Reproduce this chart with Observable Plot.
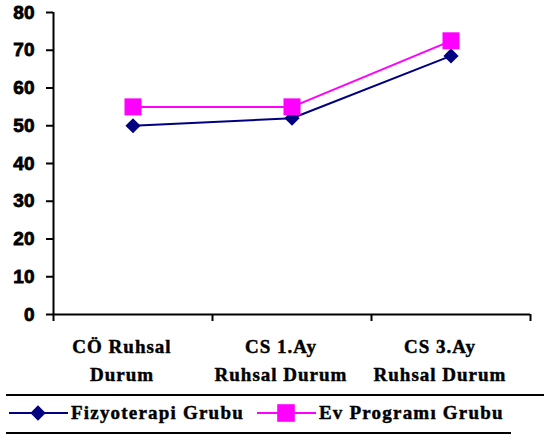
<!DOCTYPE html>
<html>
<head>
<meta charset="utf-8">
<script src="https://cdn.jsdelivr.net/npm/d3@7"></script>
<script src="https://cdn.jsdelivr.net/npm/@observablehq/plot@0.6"></script>
<style>
  body { margin: 0; background: #fff; }
  #chart { position: relative; width: 544px; height: 437px; overflow: hidden; }
  #chart svg text { font-weight: bold; stroke: #000; stroke-width: 0.45px; }
  #chart svg text.num { stroke-width: 0.8px; }
  .legend { position: relative; width: 544px; height: 42px; margin-top: 2px;
    font-family: "Liberation Serif", "Times New Roman", serif; font-weight: bold;
    font-size: 19px; letter-spacing: 1.2px; color: #000; -webkit-text-stroke: 0.45px #000; }
  .legend .rule { position: absolute; height: 2px; background: #000; }
  .legend .item { position: absolute; top: 7px; display: flex; align-items: center; height: 24px; }
  .legend svg { display: block; }
</style>
</head>
<body>
<div id="chart"></div>
<script>
// Ruhsal durum ortalamaları: iki grup, üç ölçüm zamanı
const categories = ["CÖ Ruhsal\nDurum", "CS 1.Ay\nRuhsal Durum", "CS 3.Ay\nRuhsal Durum"];
const seriesNames = ["Fizyoterapi Grubu", "Ev Programı Grubu"];
const fizyoterapi = [50, 52, 68.5];
const evProgrami = [55, 55, 72.5];
const yTicks = [0, 10, 20, 30, 40, 50, 60, 70, 80];
const colors = ["#000080", "#ff00ff"];

const rows = [];
categories.forEach((c, i) => {
  rows.push({ i, cat: c, series: seriesNames[0], value: fizyoterapi[i] });
  rows.push({ i, cat: c, series: seriesNames[1], value: evProgrami[i] });
});
const fizRows = rows.filter(d => d.series === seriesNames[0]);
const evRows = rows.filter(d => d.series === seriesNames[1]);
const boundaries = d3.range(categories.length + 1);

const sans = "'Liberation Sans', Arial, sans-serif";
const serif = "'Liberation Serif', 'Times New Roman', serif";

const plot = Plot.plot({
  width: 544,
  height: 392,
  marginTop: 12,
  marginLeft: 53,
  marginRight: 14,
  marginBottom: 78,
  style: { background: "#fff", color: "#000", fontWeight: "bold" },
  x: { domain: [0, categories.length], axis: null },
  y: { domain: [0, 80], axis: null },
  color: { domain: seriesNames, range: colors },
  marks: [
    Plot.axisY({
      ticks: yTicks, tickSize: 7, tickPadding: 12, strokeWidth: 2,
      fontSize: 19, fontFamily: sans, label: null
    }),
    Plot.axisX({
      ticks: boundaries, tickSize: 7, strokeWidth: 2, tickFormat: () => "", label: null
    }),
    Plot.ruleX([0], { strokeWidth: 2, stroke: "#000" }),
    Plot.ruleY([0], { strokeWidth: 2, stroke: "#000" }),
    Plot.text(categories, {
      x: (d, i) => i + 0.5, y: () => 0, text: d => d,
      lineAnchor: "top", dy: 19, dx: -11, lineHeight: 1.45,
      fontSize: 19, fontFamily: serif, fill: "#000"
    }),
    Plot.line(fizRows, { x: d => d.i + 0.5, y: "value", stroke: colors[0], strokeWidth: 2 }),
    Plot.line(evRows, { x: d => d.i + 0.5, y: "value", stroke: colors[1], strokeWidth: 2 }),
    Plot.dot(fizRows, { x: d => d.i + 0.5, y: "value", symbol: "diamond2", r: 6.8, fill: colors[0] }),
    Plot.dot(evRows, { x: d => d.i + 0.5, y: "value", symbol: "square", r: 9.6, fill: colors[1] })
  ]
});

// letter spacing on the category labels, heavier numerals on the value axis
d3.select(plot).selectAll("text").each(function () {
  if (/[A-Za-z]/.test(this.textContent)) this.style.letterSpacing = "1px";
  else if (/^\d+$/.test(this.textContent)) this.classList.add("num");
});

const chart = document.getElementById("chart");
chart.appendChild(plot);

// Legend below the plot
const legend = d3.select(chart).append("div").attr("class", "legend");
legend.append("div").attr("class", "rule").style("left", "6px").style("right", "0px").style("top", "0px");
legend.append("div").attr("class", "rule").style("left", "6px").style("width", "505px").style("top", "38px");

const legendItems = [
  { name: seriesNames[0], color: colors[0], symbol: d3.symbolDiamond2, size: 150, left: 9 },
  { name: seriesNames[1], color: colors[1], symbol: d3.symbolSquare, size: 310, left: 257 }
];
legendItems.forEach(it => {
  const item = legend.append("div").attr("class", "item").style("left", it.left + "px");
  const svg = item.append("svg").attr("width", 60).attr("height", 24);
  svg.append("line").attr("x1", 0).attr("x2", 59).attr("y1", 12).attr("y2", 12)
    .attr("stroke", it.color).attr("stroke-width", 2);
  svg.append("path").attr("transform", "translate(29,12)")
    .attr("d", d3.symbol(it.symbol, it.size)()).attr("fill", it.color);
  item.append("span").style("margin-left", "2px").text(it.name);
});
</script>
</body>
</html>
